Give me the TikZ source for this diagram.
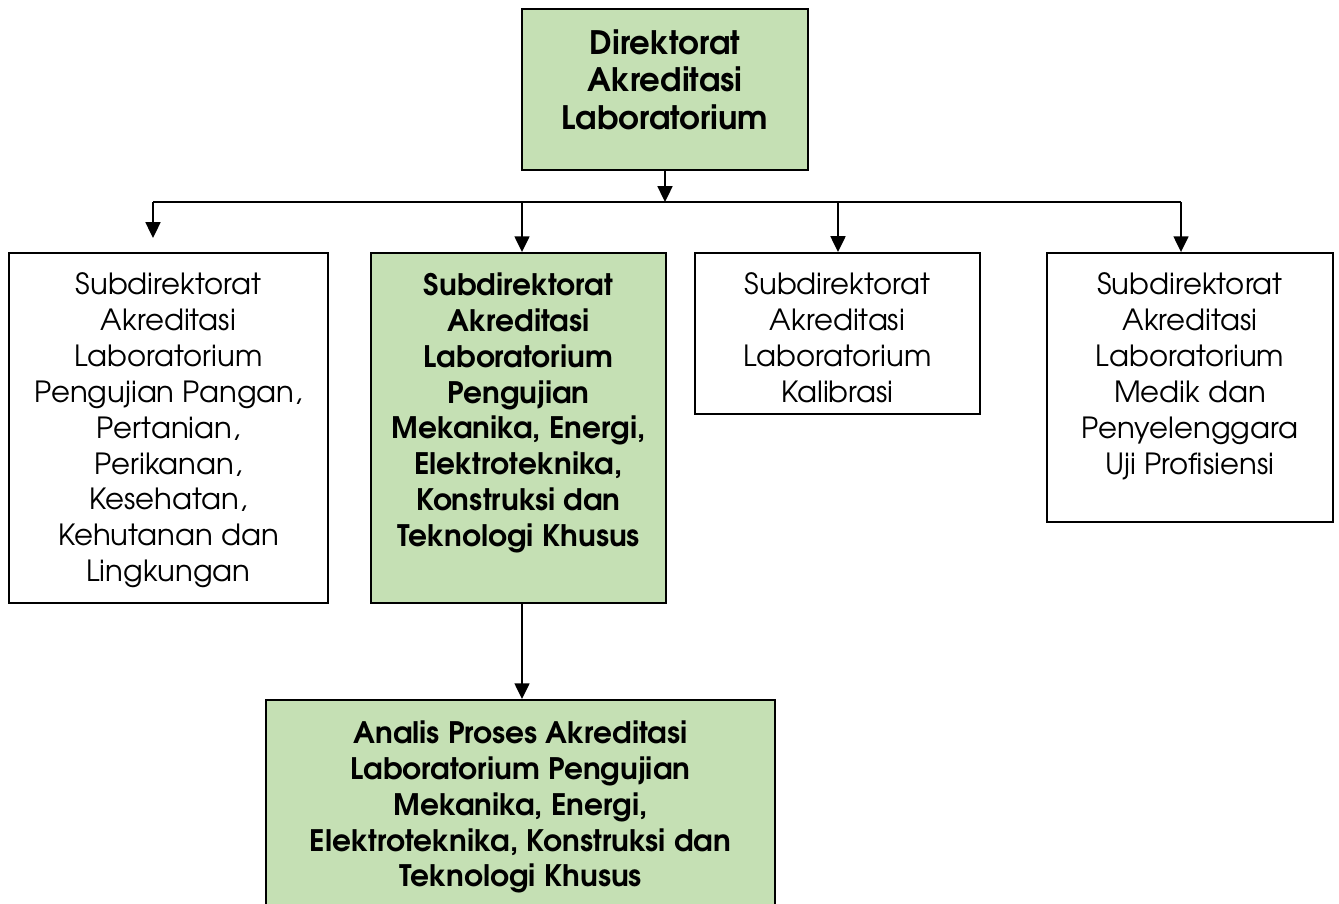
\documentclass[tikz,border=0pt]{standalone}
\usepackage{fontspec}
\setmainfont{TeX Gyre Adventor}
\usepackage{xcolor}
\usepackage{tikz}
\usetikzlibrary{arrows.meta, positioning}
\definecolor{unitgreen}{RGB}{197,224,180}

\begin{document}
\begin{tikzpicture}[
    x=0.02cm, y=-0.02cm,
    % Boxes
    unit/.style={rectangle, draw=black, line width=1.1pt, inner sep=0pt},
    greenunit/.style={unit, fill=unitgreen},
    % Texts
    txt/.style={inner sep=0pt, align=center, font=\fontsize{16.6}{20.4}\selectfont},
    boldtxt/.style={txt, font=\fontsize{16.85}{20.4}\selectfont\bfseries},
    % Connectors
    arr/.style={line width=1.1pt, -{Triangle[length=9pt, width=8.5pt]}},
    bus/.style={line width=1.1pt}
]
    \useasboundingbox (0,0) rectangle (1339,903);

    % Direktorat
    \node[greenunit, minimum width=5.72cm, minimum height=3.22cm] (dir) at (665,89.5) {};
    \node[boldtxt, font=\fontsize{18.4}{21.5}\selectfont\bfseries, below=0.42cm of dir.north] (dirtxt)
        {Direktorat\\Akreditasi\\Laboratorium};

    % Subdirektorat
    \node[unit, minimum width=6.38cm, minimum height=7cm] (sub1) at (168.5,428) {};
    \node[txt, below=0.41cm of sub1.north] (sub1txt)
        {Subdirektorat\\Akreditasi\\Laboratorium\\Pengujian Pangan,\\Pertanian,\\Perikanan,\\Kesehatan,\\Kehutanan dan\\Lingkungan};

    \node[greenunit, minimum width=5.9cm, minimum height=7cm] (sub2) at (518.5,428) {};
    \node[boldtxt, below=0.41cm of sub2.north] (sub2txt)
        {Subdirektorat\\Akreditasi\\Laboratorium\\Pengujian\\Mekanika, Energi,\\Elektroteknika,\\Konstruksi dan\\Teknologi Khusus};

    \node[unit, minimum width=5.7cm, minimum height=3.22cm] (sub3) at (837.5,333.5) {};
    \node[txt, below=0.41cm of sub3.north] (sub3txt)
        {Subdirektorat\\Akreditasi\\Laboratorium\\Kalibrasi};

    \node[unit, minimum width=5.72cm, minimum height=5.38cm] (sub4) at (1190,387.5) {};
    \node[txt, below=0.41cm of sub4.north] (sub4txt)
        {Subdirektorat\\Akreditasi\\Laboratorium\\Medik dan\\Penyelenggara\\Uji Profisiensi};

    % Analis
    \node[greenunit, minimum width=10.18cm, minimum height=4.6cm] (analis) at (520.5,815) {};
    \node[boldtxt, below=0.43cm of analis.north] (analistxt)
        {Analis Proses Akreditasi\\Laboratorium Pengujian\\Mekanika, Energi,\\Elektroteknika, Konstruksi dan\\Teknologi Khusus};

    % Connectors
    \coordinate (bmid) at (665,202);
    \coordinate (b1) at (153,202);
    \coordinate (b2) at (522,202);
    \coordinate (b3) at (838,202);
    \coordinate (b4) at (1181,202);
    \coordinate (b1end) at (153,238);

    \draw[arr] (dir.south) -- (bmid);
    \draw[bus] (b1) -- (b4);
    \draw[arr] (b1) -- (b1end);
    \draw[arr] (b2) -- (b2 |- sub2.north);
    \draw[arr] (b3) -- (b3 |- sub3.north);
    \draw[arr] (b4) -- (b4 |- sub4.north);
    \draw[arr] (b2 |- sub2.south) -- (b2 |- analis.north);
\end{tikzpicture}
\end{document}
